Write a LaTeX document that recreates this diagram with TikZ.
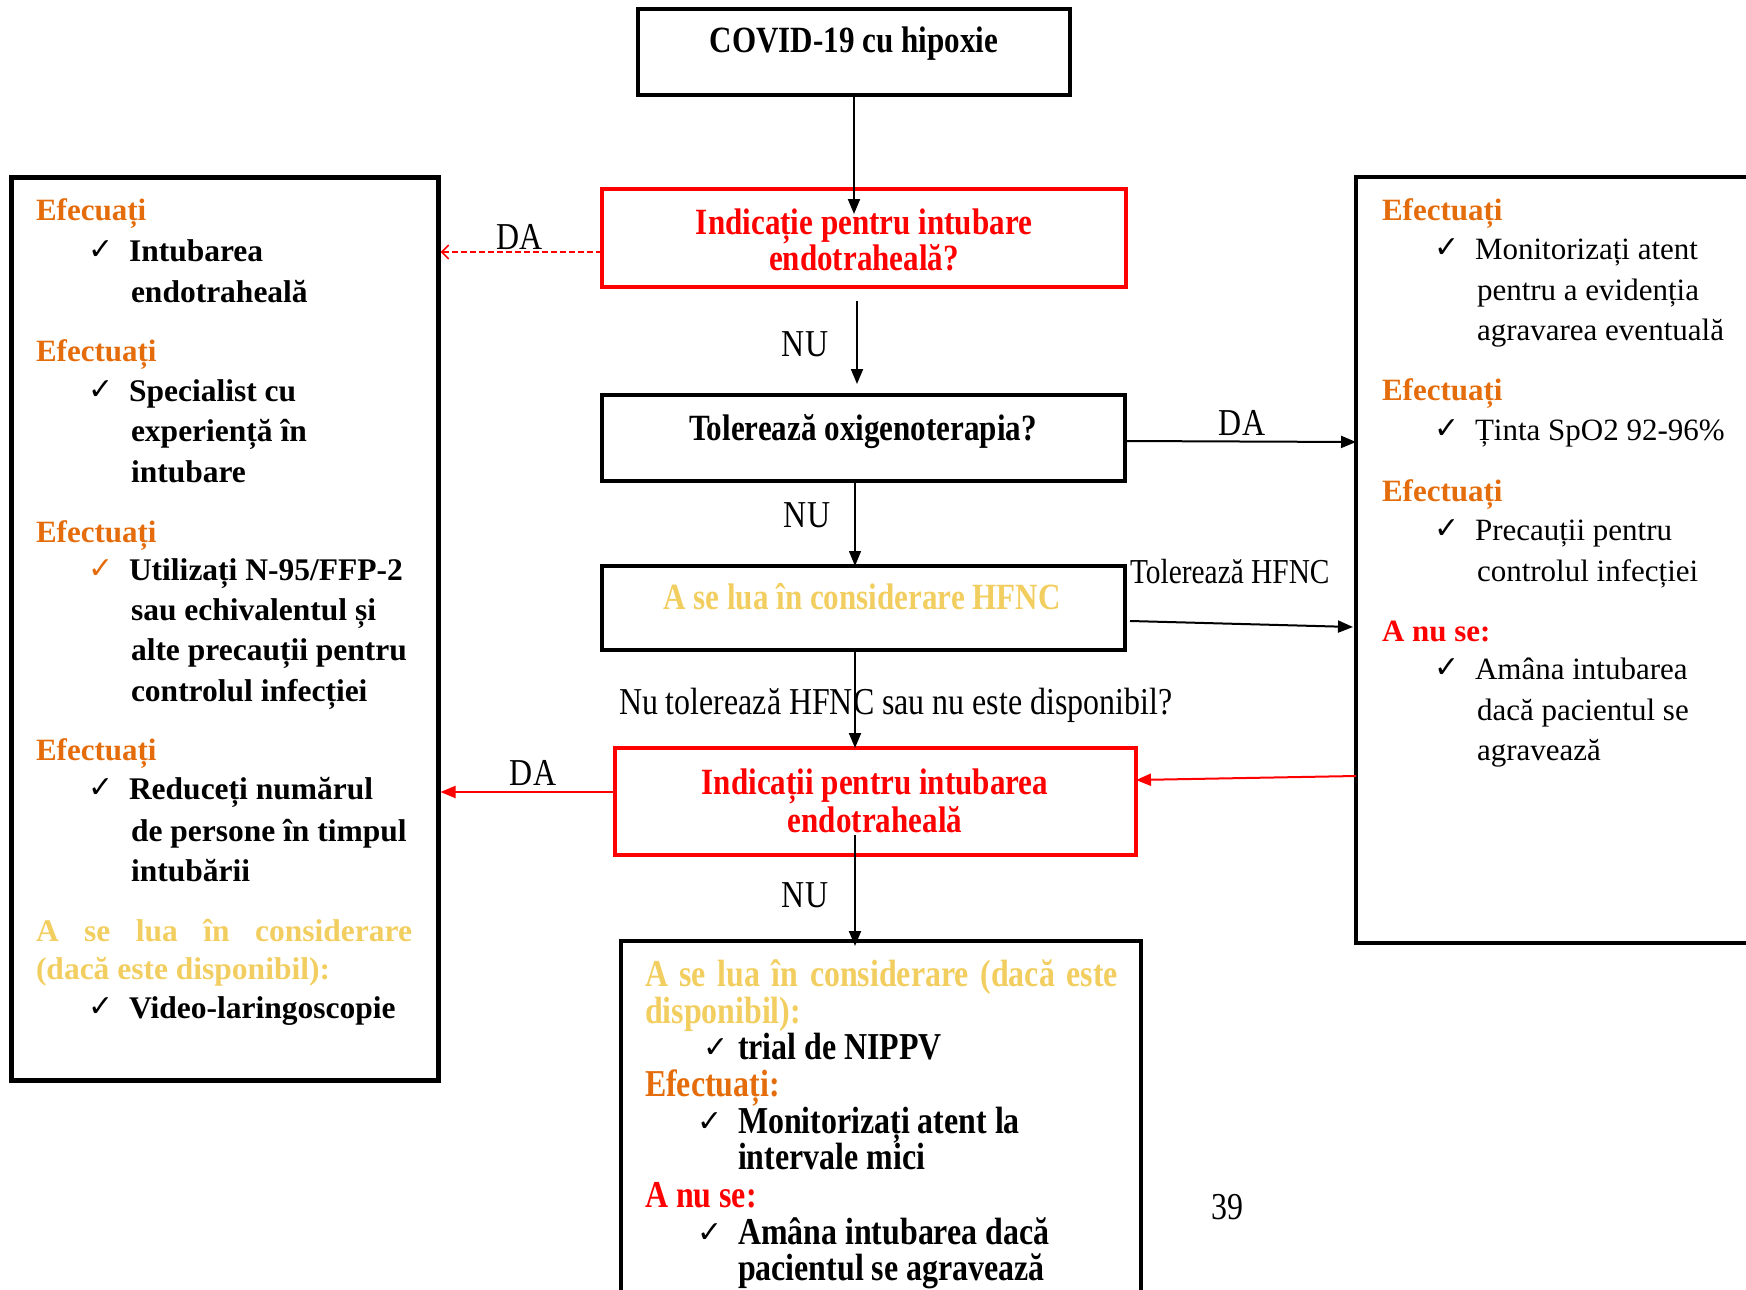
\documentclass[tikz,border=0pt]{standalone}
\usepackage{fontspec}
\setmainfont{Liberation Serif}
\newfontfamily\cond[FakeStretch=0.84]{Liberation Serif}
\newfontfamily\symf{DejaVu Sans}
\usetikzlibrary{arrows.meta,calc}
\definecolor{orng}{RGB}{228,108,10}
\definecolor{ylw}{RGB}{242,206,96}
\definecolor{rd}{RGB}{255,0,0}
\tikzset{
  every node/.style={inner sep=0pt, outer sep=0pt},
  blkbox/.style={draw=black, line width=4.5pt, rectangle},
  redbox/.style={draw=rd, line width=4pt, rectangle},
  lbt/.style={anchor=base west, font=\fontsize{31.5}{40}\selectfont\bfseries},
  rgt/.style={anchor=base west, font=\fontsize{31}{40}\selectfont},
  hdo/.style={anchor=base west, font=\fontsize{31}{40}\selectfont\bfseries, text=orng},
  chk/.style={anchor=base west, font=\symf\fontsize{30}{36}\selectfont},
  ctb/.style={anchor=base, font=\cond\fontsize{37}{44}\selectfont\bfseries},
  lbl/.style={anchor=base, font=\cond\fontsize{38}{44}\selectfont},
  cbl/.style={anchor=base west, font=\cond\fontsize{38}{44}\selectfont\bfseries},
  arr/.style={line width=2pt, -{Triangle[length=15pt,width=12pt]}},
  redarr/.style={draw=rd, line width=2pt, -{Triangle[length=15pt,width=12pt]}},
  reddash/.style={draw=rd, line width=1.6pt, dash pattern=on 6pt off 3pt, -{Straight Barb[length=7pt,width=14pt]}},
}
\begin{document}
\begin{tikzpicture}[x=1pt,y=-1pt]
\useasboundingbox (0,0) rectangle (1746,1290);
% boxes
\node[blkbox, minimum width=432pt, minimum height=86pt] (top) at (854,52) {};
\node[redbox, minimum width=524pt, minimum height=98pt] (b2) at (864,238) {};
\node[blkbox, minimum width=523pt, minimum height=86pt] (b3) at (863.5,438) {};
\node[blkbox, minimum width=523pt, minimum height=84pt] (b4) at (863.5,608) {};
\node[redbox, minimum width=521pt, minimum height=107pt] (b5) at (875.5,801.5) {};
\node[blkbox, line width=4pt, minimum width=520pt, minimum height=359pt] (b6) at (881,1120.5) {};
\node[blkbox, line width=5pt, minimum width=427pt, minimum height=903pt] (left) at (224.5,628.5) {};
\node[blkbox, line width=4pt, minimum width=404pt, minimum height=766pt] (right) at (1558,560) {};
% center texts
\node[ctb] (ttop) at (854,53) {COVID-19 cu hipoxie};
\node[ctb, text=rd] (tb2a) at (864,234) {Indicație pentru intubare};
\node[ctb, text=rd] (tb2b) at (864,270) {endotraheală?};
\node[ctb] (tb3) at (863,440) {Tolerează oxigenoterapia?};
\node[ctb, text=ylw] (tb4) at (862,609) {A se lua în considerare HFNC};
\node[ctb, text=rd] (tb5a) at (875,794) {Indicații pentru intubarea};
\node[ctb, text=rd] (tb5b) at (875,832) {endotraheală};
% connectors
\draw[arr] (top.south) -- ($(top.south |- b2.north)+(0,25)$);
\draw[reddash] ($(b2.west)+(0,14)$) -- ($(left.east |- b2.west)+(2.5,14)$);
\draw[arr] ($(b2.south)+(-7,14)$) -- ($(b3.north)+(-6.5,-11)$);
\draw[arr] ($(b3.east)+(0,3)$) -- ($(right.west |- b3.east)+(0,4)$);
\draw[arr, line width=1.3pt] ($(b3.south)+(-8.5,0)$) -- ($(b4.north)+(-8.5,0)$);
\draw[arr] ($(b4.east)+(5,13)$) -- ($(right.west |- b4.east)+(-3,19)$);
\draw[arr] ($(b4.south)+(-8.5,0)$) -- ($(b4.south |- b5.north)+(-8.5,0)$);
\draw[redarr] ($(right.west)+(0,216)$) -- ($(b5.east)+(0,-21.5)$);
\draw[redarr] ($(b5.west)+(0,-9.5)$) -- ($(left.east |- b5.west)+(2.5,-9.5)$);
\draw[arr] ($(b5.center)+(-20.5,33.5)$) -- ($(b5.center |- b6.north)+(-20.5,5)$);
% connector labels
\node[lbl] (lda1) at (520,249) {DA};
\node[lbl] (lnu1) at (805,356) {NU};
\node[lbl] (lda2) at (1242,435) {DA};
\node[lbl] (lnu2) at (807,527) {NU};
\node[lbl, anchor=base west, font=\cond\fontsize{35}{40}\selectfont] (lhf) at (1130,583) {Tolerează HFNC};
\node[lbl, anchor=base west] (lnt) at (619,714) {Nu tolerează HFNC sau nu este disponibil?};
\node[lbl] (lda3) at (533,785) {DA};
\node[lbl] (lnu3) at (805,907) {NU};
\node[lbl] (pg) at (1227,1219) {39};
% left box
\node[hdo] (lh1) at (36,220) {Efecuați};
\node[chk] (lc1) at (88,259) {✓};
\node[lbt] (li1a) at (129,261) {Intubarea};
\node[lbt] (li1b) at (131,302) {endotraheală};
\node[hdo] (lh2) at (36,361) {Efectuați};
\node[chk] (lc2) at (88,399) {✓};
\node[lbt] (li2a) at (129,401) {Specialist cu};
\node[lbt] (li2b) at (131,441) {experiență în};
\node[lbt] (li2c) at (131,482) {intubare};
\node[hdo] (lh3) at (36,542) {Efectuați};
\node[chk, text=orng] (lc3) at (88,578) {✓};
\node[lbt] (li3a) at (129,580) {Utilizați N-95/FFP-2};
\node[lbt] (li3b) at (131,620) {sau echivalentul și};
\node[lbt] (li3c) at (131,660) {alte precauții pentru};
\node[lbt] (li3d) at (131,701) {controlul infecției};
\node[hdo] (lh4) at (36,760) {Efectuați};
\node[chk] (lc4) at (88,797) {✓};
\node[lbt] (li4a) at (129,799) {Reduceți numărul};
\node[lbt] (li4b) at (131,841) {de persone în timpul};
\node[lbt] (li4c) at (131,881) {intubării};
\node[lbt, text=ylw] (lh5a) at (36,941) {\makebox[376pt][s]{A se lua în considerare}};
\node[lbt, text=ylw] (lh5b) at (36,979) {(dacă este disponibil):};
\node[chk] (lc5) at (88,1016) {✓};
\node[lbt] (li5a) at (129,1018) {Video-laringoscopie};
% right box
\node[hdo] (rh1) at (1382,220) {Efectuați};
\node[chk] (rc1) at (1434,257) {✓};
\node[rgt] (ri1a) at (1475,259) {Monitorizați atent};
\node[rgt] (ri1b) at (1477,300) {pentru a evidenția};
\node[rgt] (ri1c) at (1477,340) {agravarea eventuală};
\node[hdo] (rh2) at (1382,400) {Efectuați};
\node[chk] (rc2) at (1434,438) {✓};
\node[rgt] (ri2a) at (1475,440) {Ținta SpO2 92-96\%};
\node[hdo] (rh3) at (1382,501) {Efectuați};
\node[chk] (rc3) at (1434,538) {✓};
\node[rgt] (ri3a) at (1475,540) {Precauții pentru};
\node[rgt] (ri3b) at (1477,581) {controlul infecției};
\node[hdo, text=rd] (rh4) at (1382,641) {A nu se:};
\node[chk] (rc4) at (1434,677) {✓};
\node[rgt] (ri4a) at (1475,679) {Amâna intubarea};
\node[rgt] (ri4b) at (1477,720) {dacă pacientul se};
\node[rgt] (ri4c) at (1477,760) {agravează};
% bottom box
\node[cbl, text=ylw] (bh1a) at (645,986) {\makebox[473pt][s]{A se lua în considerare (dacă este}};
\node[cbl, text=ylw] (bh1b) at (645,1023) {disponibil):};
\node[chk] (bc1) at (703,1057) {✓};
\node[cbl] (bi1) at (738,1059) {trial de NIPPV};
\node[cbl, text=orng] (bh2) at (645,1096) {Efectuați:};
\node[chk] (bc2) at (697,1131) {✓};
\node[cbl] (bi2a) at (738,1133) {Monitorizați atent la};
\node[cbl] (bi2b) at (738,1169) {intervale mici};
\node[cbl, text=rd] (bh3) at (645,1207) {A nu se:};
\node[chk] (bc3) at (697,1242) {✓};
\node[cbl] (bi3a) at (738,1244) {Amâna intubarea dacă};
\node[cbl] (bi3b) at (738,1280) {pacientul se agravează};
\end{tikzpicture}
\end{document}
